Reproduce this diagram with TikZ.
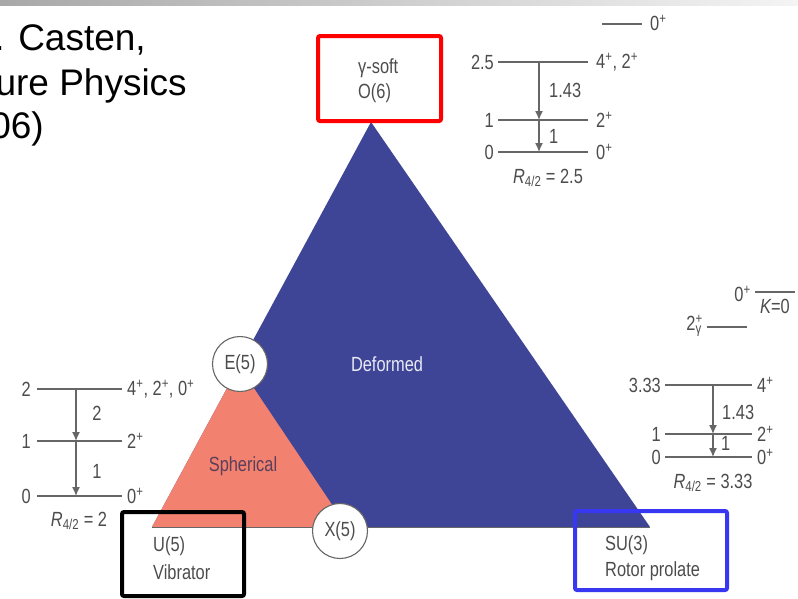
\documentclass[tikz,border=0pt]{standalone}
\usepackage{fontspec}
\setmainfont{Liberation Sans}
\newfontfamily\condfont[FakeStretch=0.8]{Liberation Sans}
\usetikzlibrary{arrows.meta}
\definecolor{deformblue}{HTML}{3F4596}
\definecolor{spherered}{HTML}{F2826F}
\definecolor{levgray}{HTML}{666666}
\definecolor{labgray}{HTML}{4C4C4C}
\definecolor{boxblue}{HTML}{3838F2}
\definecolor{barleft}{HTML}{A8A8A8}
\definecolor{barright}{HTML}{F4F4F4}

\begin{document}
\begin{tikzpicture}[x=1pt,y=-1pt,
  lev/.style={draw=levgray, line width=1.5pt},
  levarrow/.style={draw=levgray, line width=1.4pt, -{Latex[length=9pt,width=8pt]}},
  lab/.style={font=\condfont\fontsize{20.5}{22}\selectfont, text=labgray, inner sep=0pt},
  corner/.style={circle, draw=levgray, line width=1.1pt, fill=white, minimum size=55pt, inner sep=0pt, font=\condfont\fontsize{20.5}{22}\selectfont, text=labgray},
  limitbox/.style={line width=4pt, rounded corners=2pt}]
\useasboundingbox (0,0) rectangle (798,598);
\shade[left color=barleft, right color=barright] (0,0) rectangle (798,5);

% citation, cut at the left edge
\node[anchor=base east, inner sep=0pt, font=\fontsize{37}{44}\selectfont] (cite1) at (146,50) {. Casten,};
\node[anchor=base east, inner sep=0pt, font=\fontsize{37}{44}\selectfont] (cite2) at (187,95) {ure Physics};
\node[anchor=base east, inner sep=0pt, font=\fontsize{37}{44}\selectfont] (cite3) at (44,138) {06)};

% triangle
\fill[deformblue] (371,122) -- (152,527) -- (650,527) -- cycle;
\fill[spherered] (239,366) -- (152,527) -- (347,527) -- cycle;
\draw[levgray, line width=0.8pt] (152,527) -- (650,527);
\node[lab, text=white!88!deformblue] (deformed) at (387,364) {Deformed};
\node[lab, text=black!55!spherered!60!deformblue] (spherical) at (243,466) {Spherical};
\node[corner] (e5) at (240,364) {E(5)};
\node[corner] (x5) at (340,531) {X(5)};

% limit boxes
\draw[limitbox, red] (318,36) rectangle (441,121);
\node[lab, anchor=west] (gsoft) at (358,68) {γ-soft};
\node[lab, anchor=west] (o6) at (358,93) {O(6)};
\draw[limitbox, black] (122,512) rectangle (244,596);
\node[lab, anchor=west] (u5) at (153,546) {U(5)};
\node[lab, anchor=west] (vib) at (153,572) {Vibrator};
\draw[limitbox, boxblue] (575,511) rectangle (727,590);
\node[lab, anchor=west] (su3) at (605,545) {SU(3)};
\node[lab, anchor=west] (rotor) at (605,571) {Rotor prolate};

% O(6) levels
\draw[lev] (602,24) -- (642,24);
\node[lab, anchor=west] (osix0b) at (650,23) {0\textsuperscript{+}};
\draw[lev] (498,62) -- (588,62);
\draw[lev] (498,120) -- (588,120);
\draw[lev] (498,152) -- (588,152);
\node[lab, anchor=east] (osixe2) at (494,62) {2.5};
\node[lab, anchor=east] (osixe1) at (494,120) {1};
\node[lab, anchor=east] (osixe0) at (494,152) {0};
\node[lab, anchor=west] (osixj2) at (596,62) {4\textsuperscript{+}, 2\textsuperscript{+}};
\node[lab, anchor=west] (osixj1) at (596,120) {2\textsuperscript{+}};
\node[lab, anchor=west] (osixj0) at (596,152) {0\textsuperscript{+}};
\coordinate (osix2) at (539,62);
\coordinate (osix1) at (539,120);
\coordinate (osix0) at (539,152);
\draw[levarrow] (osix2) -- (osix1);
\draw[levarrow] (osix1) -- (osix0);
\node[lab, anchor=west] (osixb21) at (549,90) {1.43};
\node[lab, anchor=west] (osixb10) at (549,136) {1};
\node[lab] (osixr) at (548,178) {{\itshape R}\textsubscript{4/2} = 2.5};

% U(5) levels
\draw[lev] (37,389) -- (122,389);
\draw[lev] (37,441) -- (122,441);
\draw[lev] (37,496) -- (122,496);
\node[lab, anchor=east] (ufive2) at (31,389) {2};
\node[lab, anchor=east] (ufive1) at (31,441) {1};
\node[lab, anchor=east] (ufive0) at (31,496) {0};
\node[lab, anchor=west] (ufivej2) at (127,389) {4\textsuperscript{+}, 2\textsuperscript{+}, 0\textsuperscript{+}};
\node[lab, anchor=west] (ufivej1) at (127,441) {2\textsuperscript{+}};
\node[lab, anchor=west] (ufivej0) at (127,496) {0\textsuperscript{+}};
\coordinate (ufa) at (76,389);
\coordinate (ufb) at (76,441);
\coordinate (ufc) at (76,496);
\draw[levarrow] (ufa) -- (ufb);
\draw[levarrow] (ufb) -- (ufc);
\node[lab] (ufiveb21) at (97,413) {2};
\node[lab] (ufiveb10) at (97,471) {1};
\node[lab] (ufiver) at (79,521) {{\itshape R}\textsubscript{4/2} = 2};

% SU(3) levels
\draw[lev] (755,292) -- (795,292);
\node[lab, anchor=east] (sukzero) at (751,294) {0\textsuperscript{+}};
\node[lab] (sukzerolab) at (775,306) {{\itshape K}=0};
\draw[lev] (707,327) -- (747,327);
\node[lab, anchor=east] (sugamma) at (702,326) {2\rlap{\textsuperscript{+}}\textsubscript{γ}};
\draw[lev] (665,385) -- (752,385);
\draw[lev] (665,434) -- (752,434);
\draw[lev] (665,457) -- (752,457);
\node[lab, anchor=east] (sue4) at (661,385) {3.33};
\node[lab, anchor=east] (sue2) at (661,434) {1};
\node[lab, anchor=east] (sue0) at (661,457) {0};
\node[lab, anchor=west] (suj4) at (757,385) {4\textsuperscript{+}};
\node[lab, anchor=west] (suj2) at (757,434) {2\textsuperscript{+}};
\node[lab, anchor=west] (suj0) at (757,457) {0\textsuperscript{+}};
\coordinate (sua) at (713,385);
\coordinate (sub) at (713,434);
\coordinate (suc) at (713,457);
\draw[levarrow] (sua) -- (sub);
\draw[levarrow] (sub) -- (suc);
\node[lab, anchor=west] (sub42) at (722,412) {1.43};
\node[lab, anchor=west] (sub20) at (721,443) {1};
\node[lab] (sur) at (713,483) {{\itshape R}\textsubscript{4/2} = 3.33};
\end{tikzpicture}
\end{document}
